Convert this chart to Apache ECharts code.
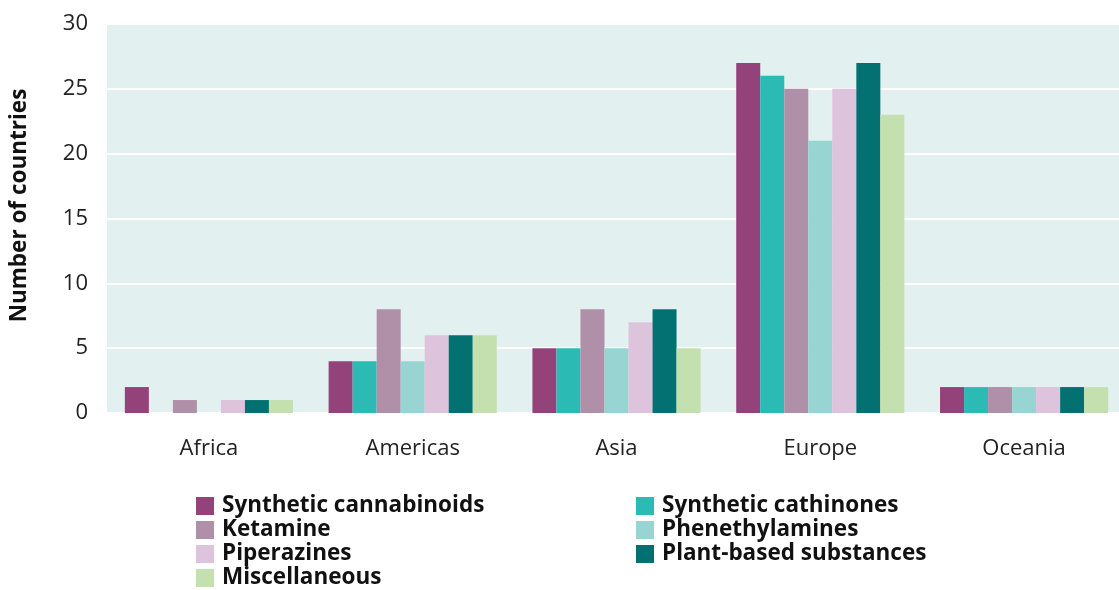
<!DOCTYPE html>
<html><head><meta charset="utf-8">
<script src="https://cdn.jsdelivr.net/npm/echarts@6/dist/echarts.min.js"></script>
<style>html,body{margin:0;padding:0;background:#fff}#c{width:1119px;height:590px}</style>
</head><body><div id="c"></div>
<script>
const categories = ['Africa', 'Americas', 'Asia', 'Europe', 'Oceania'];
const seriesNames = ['Synthetic cannabinoids', 'Synthetic cathinones', 'Ketamine', 'Phenethylamines', 'Piperazines', 'Plant-based substances', 'Miscellaneous'];
const syntheticCannabinoids = [2, 4, 5, 27, 2];
const syntheticCathinones = [0, 4, 5, 26, 2];
const ketamine = [1, 8, 8, 25, 2];
const phenethylamines = [0, 4, 5, 21, 2];
const piperazines = [1, 6, 7, 25, 2];
const plantBased = [1, 6, 8, 27, 2];
const miscellaneous = [1, 6, 5, 23, 2];
const colors = ['#93427a', '#2cbab5', '#b090a8', '#98d4d2', '#dec3dd', '#037171', '#c5e0af'];
const values = [syntheticCannabinoids, syntheticCathinones, ketamine, phenethylamines, piperazines, plantBased, miscellaneous];

const font = '"Open Sans", "Noto Sans", sans-serif';
const chart = echarts.init(document.getElementById('c'), null, {renderer: 'canvas'});
const legendText = {fontFamily: font, fontSize: 22.5, fontWeight: 'bold', color: '#111', lineHeight: 24, padding: [0, 0, 0, 3]};
const legendBase = {orient: 'vertical', top: 494, height: 110, icon: 'rect', itemWidth: 18, itemHeight: 18, itemGap: 0, textStyle: legendText, padding: 0};
chart.setOption({
  animation: false,
  color: colors,
  grid: {left: 107, width: 1019, top: 24, bottom: 177, show: true, backgroundColor: '#e2f1f0', borderWidth: 0, outerBoundsMode: 'none', containLabel: false},
  legend: [
    Object.assign({}, legendBase, {data: [seriesNames[0], seriesNames[2], seriesNames[4], seriesNames[6]], left: 196}),
    Object.assign({}, legendBase, {data: [seriesNames[1], seriesNames[3], seriesNames[5]], left: 636})
  ],
  xAxis: {
    type: 'category', data: categories,
    axisLine: {show: false}, axisTick: {show: false},
    axisLabel: {fontFamily: font, fontSize: 22, color: '#222', margin: 25}
  },
  yAxis: {
    type: 'value', min: 0, max: 30, interval: 5,
    name: 'Number of countries', nameLocation: 'middle', nameGap: 76,
    nameTextStyle: {fontFamily: font, fontSize: 22.5, fontWeight: 'bold', color: '#111', padding: [0, 0, 0, 26]},
    axisLine: {show: false}, axisTick: {show: false},
    axisLabel: {fontFamily: font, fontSize: 22, color: '#222', margin: 19},
    splitLine: {lineStyle: {color: '#ffffff', width: 2}}
  },
  series: seriesNames.map((n, i) => ({
    name: n, type: 'bar', data: values[i],
    barGap: '0%', barCategoryGap: '17.5%'
  }))
});
</script></body></html>
